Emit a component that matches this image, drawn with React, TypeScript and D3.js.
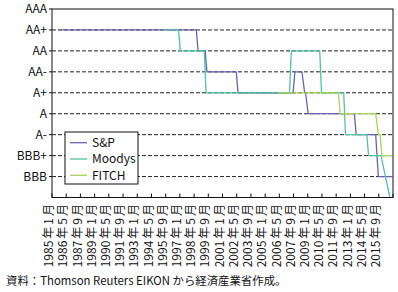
import React from "react";
import * as d3 from "d3";

// Rating scale, bottom (BBB-) to top (AAA)
const RATINGS = ["BBB-", "BBB", "BBB+", "A-", "A", "A+", "AA-", "AA", "AA+", "AAA"];
// Labels shown on the y axis (top to bottom)
const Y_LABELS = ["AAA", "AA+", "AA", "AA-", "A+", "A", "A-", "BBB+", "BBB"];
// Gridline levels (dashed)
const GRID_LEVELS = ["AA+", "AA", "AA-", "A+", "A", "A-", "BBB+", "BBB"];

// Monthly category axis: 1985-01 .. 2016-12
const FIRST_MONTH = "1985-01";
const LAST_MONTH = "2016-12";

// Tick labels (every 16 months)
const TICK_LABELS = [
  "1985年1月", "1986年5月", "1987年9月", "1989年1月", "1990年5月", "1991年9月",
  "1993年1月", "1994年5月", "1995年9月", "1997年1月", "1998年5月", "1999年9月",
  "2001年1月", "2002年5月", "2003年9月", "2005年1月", "2006年5月", "2007年9月",
  "2009年1月", "2010年5月", "2011年9月", "2013年1月", "2014年5月", "2015年9月",
];

// Series vertices (month, rating)
const SP_DATES = [
  "1985-08", "1998-07", "1998-09", "1999-05", "1999-07", "2002-04", "2002-06",
  "2007-08", "2007-10", "2008-06", "2008-09", "2008-10", "2009-01", "2013-05",
  "2013-07", "2015-05", "2015-08", "2016-12",
];
const SP_RATINGS = [
  "AA+", "AA+", "AA", "AA", "AA-", "AA-", "A+",
  "A+", "AA-", "AA-", "A+", "A+", "A", "A",
  "A-", "A-", "BBB", "BBB",
];

const MOODYS_DATES = [
  "1995-06", "1996-11", "1997-01", "1999-04", "1999-06", "2007-04", "2007-06",
  "2010-02", "2010-04", "2012-05", "2012-07", "2014-07", "2014-09", "2015-11",
  "2016-04", "2016-09",
];
const MOODYS_RATINGS = [
  "AA+", "AA+", "AA", "AA", "A+", "A+", "AA",
  "AA", "A+", "A+", "A-", "A-", "BBB+", "BBB+",
  "BBB", "BBB-",
];

const FITCH_DATES = [
  "2006-03", "2011-11", "2012-01", "2015-05", "2015-08", "2015-10", "2015-12", "2016-12",
];
const FITCH_RATINGS = [
  "A+", "A+", "A", "A", "A-", "A-", "BBB+", "BBB+",
];

const SERIES_NAMES = ["S&P", "Moodys", "FITCH"];
const SERIES_COLORS = ["#6a62b4", "#52c3a3", "#a8d45a"];

const SOURCE = "資料：Thomson Reuters EIKON から経済産業省作成。";

const FONT = "'Noto Sans CJK JP', 'Noto Sans', sans-serif";

function monthIndex(s: string): number {
  const [y, m] = s.split("-").map(Number);
  const [y0, m0] = FIRST_MONTH.split("-").map(Number);
  return (y - y0) * 12 + (m - m0);
}

function labelMonthIndex(s: string): number {
  const mm = s.match(/(\d+)年(\d+)月/)!;
  return monthIndex(`${mm[1]}-${String(mm[2]).padStart(2, "0")}`);
}

export default function App() {
  const W = 398;
  const H = 292;
  const left = 52;
  const right = 393;
  const top = 9;
  const bottom = 197.5;

  const nMonths = monthIndex(LAST_MONTH) + 1;
  const x = d3.scaleLinear().domain([0, nMonths]).range([left, right]);
  const y = d3.scaleLinear().domain([0, RATINGS.length - 1]).range([bottom, top]);
  const ry = (r: string) => y(RATINGS.indexOf(r));

  const series = [
    { dates: SP_DATES, ratings: SP_RATINGS },
    { dates: MOODYS_DATES, ratings: MOODYS_RATINGS },
    { dates: FITCH_DATES, ratings: FITCH_RATINGS },
  ];

  const line = d3
    .line<[number, string]>()
    .x((d) => x(d[0] + 0.5))
    .y((d) => ry(d[1]));

  const legendX = 65;
  const legendY = 132;
  const legendRowH = 16.3;

  return (
    <svg
      width={W}
      height={H}
      style={{ position: "absolute", left: 0, top: 0, background: "#fff" }}
      fontFamily={FONT}
    >
      <rect x={0} y={0} width={W} height={H} fill="#fff" />
      {/* gridlines */}
      {GRID_LEVELS.map((r) => (
        <line
          key={r}
          x1={left}
          x2={right}
          y1={ry(r)}
          y2={ry(r)}
          stroke="#222"
          strokeWidth={1}
          strokeDasharray="4 2"
        />
      ))}
      {/* series */}
      {series.map((s, i) => {
        const pts: [number, string][] = s.dates.map((d, j) => [monthIndex(d), s.ratings[j]]);
        return (
          <path
            key={i}
            d={line(pts) || ""}
            fill="none"
            stroke={SERIES_COLORS[i]}
            strokeWidth={1.3}
          />
        );
      })}
      {/* frame */}
      <rect
        x={left}
        y={top}
        width={right - left}
        height={bottom - top}
        fill="none"
        stroke="#111"
        strokeWidth={1}
      />
      {/* y ticks + labels */}
      {Y_LABELS.map((r) => (
        <g key={r}>
          <line x1={left - 3} x2={left} y1={ry(r)} y2={ry(r)} stroke="#111" />
          <text
            x={47}
            y={ry(r)}
            dy="0.35em"
            textAnchor="end"
            fontSize={12}
            fill="#111"
          >
            {r}
          </text>
        </g>
      ))}
      {/* x ticks + labels */}
      {TICK_LABELS.map((lab) => {
        const m = labelMonthIndex(lab);
        const tx = x(m);
        const mm = lab.match(/(\d+)(年)(\d+)(月)/)!;
        return (
          <g key={lab}>
            <line x1={tx} x2={tx} y1={bottom} y2={bottom - 4} stroke="#111" />
            <text
              transform={`translate(${tx - 3},204) rotate(-90)`}
              textAnchor="end"
              dy="0.35em"
              fontSize={12}
              fill="#111"
            >
              <tspan>{mm[1]}</tspan>
              <tspan dx={2}>{mm[2]}</tspan>
              <tspan dx={2}>{mm[3]}</tspan>
              <tspan dx={2}>{mm[4]}</tspan>
            </text>
          </g>
        );
      })}
      <line x1={right} x2={right} y1={bottom} y2={bottom - 4} stroke="#111" />
      {/* legend */}
      <rect
        x={legendX}
        y={legendY}
        width={73}
        height={52}
        fill="#fff"
        stroke="#111"
        strokeWidth={1}
      />
      {SERIES_NAMES.map((n, i) => {
        const cy = legendY + 10.7 + i * legendRowH;
        return (
          <g key={n}>
            <line x1={70} x2={87} y1={cy} y2={cy} stroke={SERIES_COLORS[i]} strokeWidth={1.3} />
            <text x={92} y={cy} dy="0.35em" fontSize={12} fill="#111">
              {n}
            </text>
          </g>
        );
      })}
      {/* source */}
      <text x={6} y={284.5} fontSize={11.4} fill="#111">
        {SOURCE}
      </text>
    </svg>
  );
}
